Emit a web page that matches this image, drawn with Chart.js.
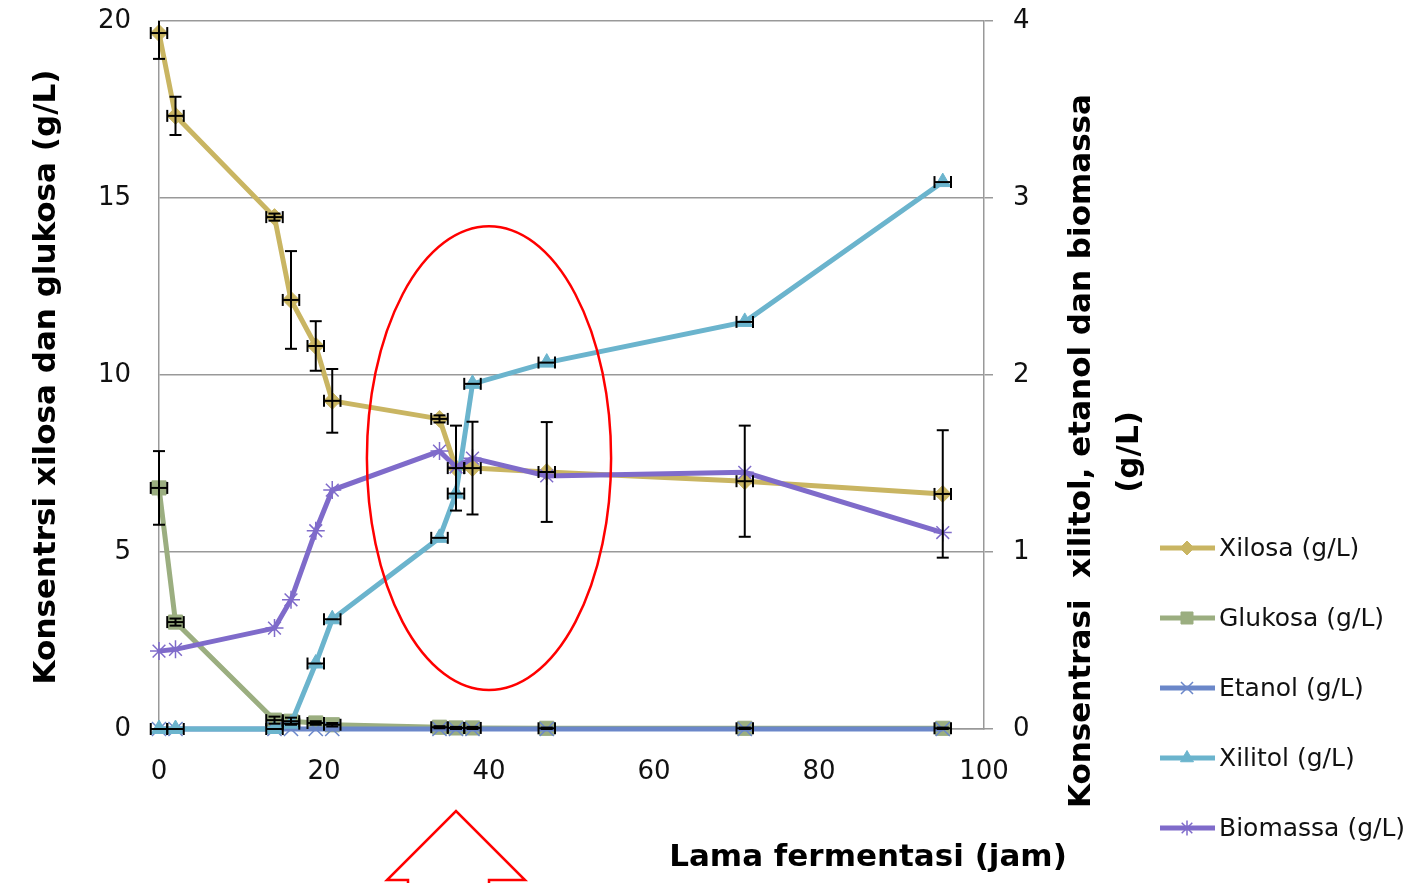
<!DOCTYPE html>
<html>
<head>
<meta charset="utf-8">
<script src="https://cdn.jsdelivr.net/npm/chart.js@4.4.1/dist/chart.umd.min.js"></script>
<style>
  html, body { margin: 0; padding: 0; background: #fff; }
  #wrap { width: 1408px; height: 883px; position: relative; }
</style>
</head>
<body>
<div id="wrap"><canvas id="c"></canvas></div>
<script>
// fermentation time (jam)
const hours = [0, 2, 14, 16, 19, 21, 34, 36, 38, 47, 71, 95];

// left axis (g/L)
const xilosa    = [19.66, 17.32, 14.46, 12.12, 10.82, 9.27, 8.76, 7.37, 7.37, 7.26, 7.0, 6.64];
const xilosaErr = [0.73, 0.54, 0.1, 1.38, 0.7, 0.9, 0.1, 1.2, 1.31, 1.41, 1.57, 1.8];
const glukosa    = [6.81, 3.02, 0.25, 0.22, 0.17, 0.12, 0.05, 0.03, 0.03, 0.02, 0.02, 0.02];
const glukosaErr = [1.04, 0.1, 0.1, 0.1, 0.05, 0.05, 0.03, 0.03, 0.03, 0.02, 0.02, 0.02];

// right axis (g/L)
const etanol   = [0, 0, 0, 0, 0, 0, 0, 0, 0, 0, 0, 0];
const xilitol  = [0, 0, 0, 0.03, 0.37, 0.62, 1.08, 1.33, 1.95, 2.07, 2.3, 3.09];
const biomassa = [0.44, 0.45, 0.57, 0.73, 1.12, 1.35, 1.57, 1.48, 1.53, 1.43, 1.45, 1.11];

const hourErr = 1;

const xTicks = [0, 20, 40, 60, 80, 100];
const leftTicks = [0, 5, 10, 15, 20];
const rightTicks = [0, 1, 2, 3, 4];

const FONT = "'DejaVu Sans', sans-serif";

const pts = arr => hours.map((h, i) => ({ x: h, y: arr[i] }));

const datasets = [
  { label: 'Xilosa (g/L)', data: pts(xilosa), yAxisID: 'y', errY: xilosaErr, errX: hourErr,
    borderColor: '#c9b562', backgroundColor: '#c9b562', pointStyle: 'rectRot', pointRadius: 8.5, order: 5 },
  { label: 'Glukosa (g/L)', data: pts(glukosa), yAxisID: 'y', errY: glukosaErr, errX: hourErr,
    borderColor: '#9bae80', backgroundColor: '#9bae80', pointStyle: 'rect', pointRadius: 10, order: 4 },
  { label: 'Etanol (g/L)', data: pts(etanol), yAxisID: 'y1',
    borderColor: '#6b87c9', backgroundColor: '#6b87c9', pointStyle: 'crossRot', pointRadius: 10, pointBorderWidth: 1.5, order: 3 },
  { label: 'Xilitol (g/L)', data: pts(xilitol), yAxisID: 'y1', errX: hourErr,
    borderColor: '#6bb4cd', backgroundColor: '#6bb4cd', pointStyle: 'triangle', pointRadius: 9, order: 2 },
  { label: 'Biomassa (g/L)', data: pts(biomassa), yAxisID: 'y1',
    borderColor: '#7f6bca', backgroundColor: '#7f6bca', pointStyle: 'star', pointRadius: 9, pointBorderWidth: 1.5, order: 1 }
];

datasets.forEach(d => {
  d.borderWidth = 5; d.tension = 0; d.fill = false; d.clip = 16;
  if (!d.pointBorderWidth) d.pointBorderWidth = 1;
});

function seg(ctx, x1, y1, x2, y2) {
  ctx.beginPath(); ctx.moveTo(x1, y1); ctx.lineTo(x2, y2); ctx.stroke();
}

const errorBars = {
  id: 'errorBars',
  afterDatasetsDraw(chart) {
    const ctx = chart.ctx, a = chart.chartArea, xs = chart.scales.x;
    ctx.save();
    ctx.beginPath(); ctx.rect(a.left - 12, a.top, a.right - a.left + 24, a.bottom - a.top + 12); ctx.clip();
    ctx.strokeStyle = '#000'; ctx.lineWidth = 2;
    chart.data.datasets.forEach(ds => {
      const ys = chart.scales[ds.yAxisID];
      ds.data.forEach((p, j) => {
        const px = xs.getPixelForValue(p.x), py = ys.getPixelForValue(p.y);
        if (ds.errY && ds.errY[j]) {
          const e = ds.errY[j];
          const y1 = ys.getPixelForValue(p.y + e), y2 = ys.getPixelForValue(p.y - e);
          seg(ctx, px, y1, px, y2);
          seg(ctx, px - 6, y1, px + 6, y1);
          seg(ctx, px - 6, y2, px + 6, y2);
        }
        if (ds.errX) {
          const x1 = xs.getPixelForValue(p.x - ds.errX), x2 = xs.getPixelForValue(p.x + ds.errX);
          seg(ctx, x1, py, x2, py);
          seg(ctx, x1, py - 6, x1, py + 6);
          seg(ctx, x2, py - 6, x2, py + 6);
        }
      });
    });
    ctx.restore();
  }
};

// annotation: red ellipse round the 34-47 h region and arrow below the axis
const ellipseCenter = { x: 40, y: 7.65 }, ellipseRadius = { x: 14.8, y: 6.55 };
const arrowAt = 36;

const extras = {
  id: 'extras',
  afterDraw(chart) {
    const ctx = chart.ctx, xs = chart.scales.x, ys = chart.scales.y;
    ctx.save();
    // ellipse
    const cx = xs.getPixelForValue(ellipseCenter.x), cy = ys.getPixelForValue(ellipseCenter.y);
    const rx = xs.getPixelForValue(ellipseCenter.x + ellipseRadius.x) - cx;
    const ry = cy - ys.getPixelForValue(ellipseCenter.y + ellipseRadius.y);
    ctx.strokeStyle = '#ff0000'; ctx.lineWidth = 2.5;
    ctx.beginPath(); ctx.ellipse(cx, cy, rx, ry, 0, 0, Math.PI * 2); ctx.stroke();
    // arrow
    const ax = xs.getPixelForValue(arrowAt);
    ctx.beginPath();
    ctx.moveTo(ax - 48, 900); ctx.lineTo(ax - 48, 880); ctx.lineTo(ax - 69, 880);
    ctx.lineTo(ax, 811); ctx.lineTo(ax + 69, 880); ctx.lineTo(ax + 33, 880); ctx.lineTo(ax + 33, 900);
    ctx.stroke();

    // axis titles
    ctx.fillStyle = '#000';
    ctx.font = 'bold 31px ' + FONT;
    ctx.textAlign = 'center'; ctx.textBaseline = 'middle';
    ctx.fillText('Lama fermentasi (jam)', 868, 858);
    ctx.save(); ctx.translate(47, 377); ctx.rotate(-Math.PI / 2);
    ctx.fillText('Konsentrsi xilosa dan glukosa (g/L)', 0, 0); ctx.restore();
    ctx.save(); ctx.translate(1082, 451); ctx.rotate(-Math.PI / 2);
    ctx.fillText('Konsentrasi  xilitol, etanol dan biomassa', 0, 0); ctx.restore();
    ctx.save(); ctx.translate(1130, 452); ctx.rotate(-Math.PI / 2);
    ctx.fillText('(g/L)', 0, 0); ctx.restore();

    // legend
    ctx.font = '25px ' + FONT; ctx.textAlign = 'left';
    chart.data.datasets.forEach((ds, i) => {
      const y = 548 + 70 * i;
      ctx.strokeStyle = ds.borderColor; ctx.lineWidth = 5;
      seg(ctx, 1160, y, 1215, y);
      ctx.fillStyle = ds.backgroundColor; ctx.lineWidth = ds.pointBorderWidth;
      Chart.helpers.drawPoint(ctx, { pointStyle: ds.pointStyle, radius: ds.pointRadius - 1.5, borderWidth: ds.pointBorderWidth }, 1187, y);
      ctx.fillStyle = '#111';
      ctx.fillText(ds.label, 1219, y + 1);
    });
    ctx.restore();
  }
};

// vertical scales add tick padding above/below; drop it so the plot area starts at the layout padding
const noVPad = s => { s.paddingTop = 0; s.paddingBottom = 0; };

new Chart(document.getElementById('c'), {
  type: 'line',
  data: { datasets },
  plugins: [errorBars, extras],
  options: {
    responsive: true,
    maintainAspectRatio: false,
    animation: false,
    layout: { padding: { top: 21, left: 0, right: 0, bottom: 0 } },
    plugins: { legend: { display: false }, tooltip: { enabled: false } },
    scales: {
      x: {
        type: 'linear', min: 0, max: 100,
        afterFit: s => { s.height = 154; },
        afterBuildTicks: s => { s.ticks = xTicks.map(v => ({ value: v })); },
        ticks: { color: '#111', padding: 28, font: { family: FONT, size: 26 } },
        grid: { display: false, drawTicks: false },
        border: { color: '#999', width: 1.5 }
      },
      y: {
        position: 'left', min: 0, max: 20,
        afterFit: s => { s.width = 159; noVPad(s); },
        afterBuildTicks: s => { s.ticks = leftTicks.map(v => ({ value: v })); },
        ticks: { color: '#111', padding: 28, font: { family: FONT, size: 26 } },
        grid: { color: '#999', lineWidth: 1.5, drawTicks: false },
        border: { color: '#999', width: 1.5 }
      },
      y1: {
        position: 'right', min: 0, max: 4,
        afterFit: s => { s.width = 424; noVPad(s); },
        afterBuildTicks: s => { s.ticks = rightTicks.map(v => ({ value: v })); },
        ticks: { color: '#111', padding: 20, font: { family: FONT, size: 26 } },
        grid: { drawOnChartArea: false, drawTicks: true, tickLength: 9, color: '#999', lineWidth: 1.5 },
        border: { color: '#999', width: 1.5 }
      }
    }
  }
});
</script>
</body>
</html>
